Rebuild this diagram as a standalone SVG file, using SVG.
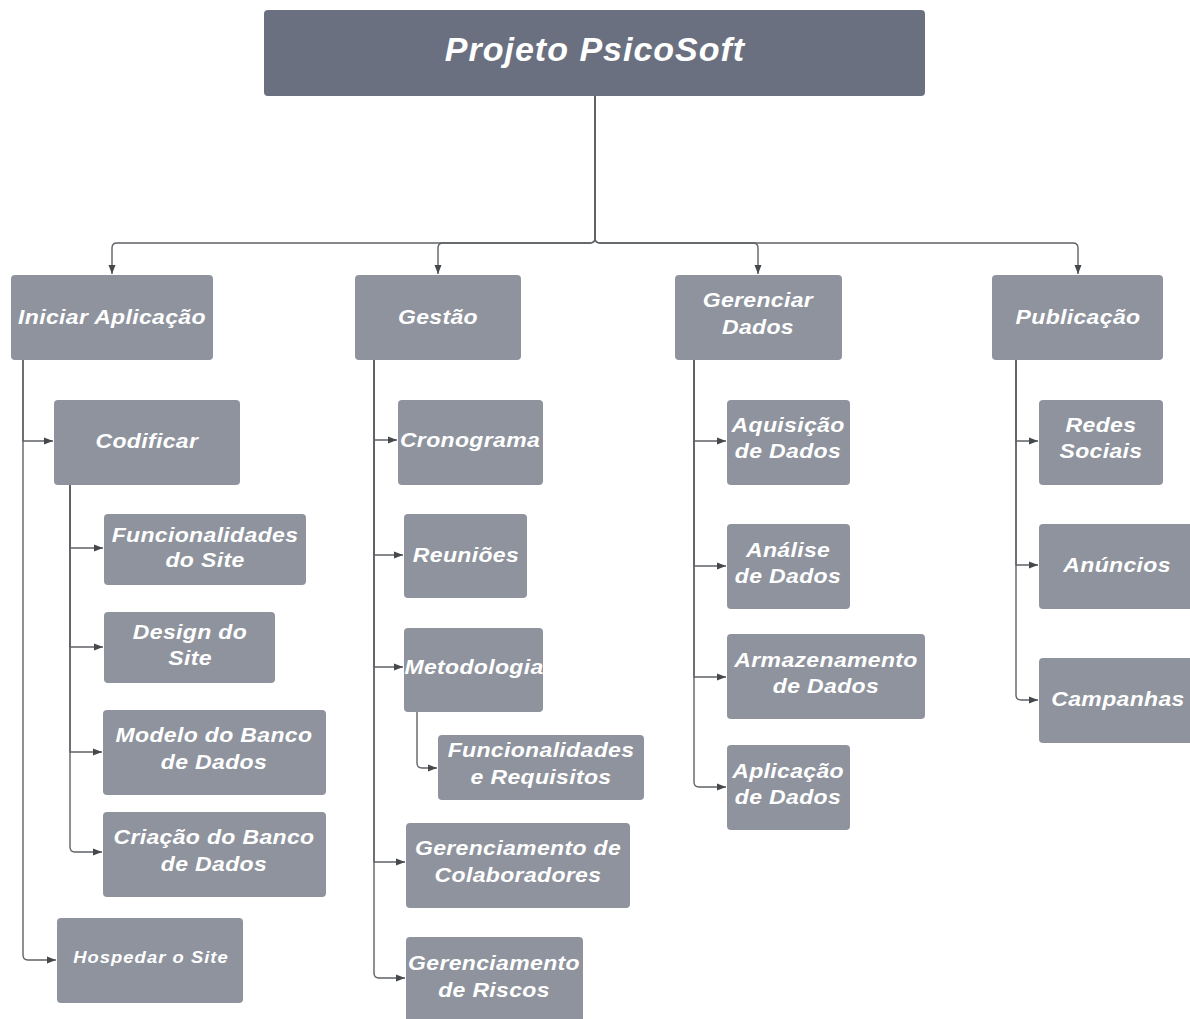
<svg xmlns="http://www.w3.org/2000/svg" width="1190" height="1019" viewBox="0 0 1190 1019">
  <style>
    .box { fill: #8e939d; }
    .root { fill: #6b7080; }
    .t { font-family: "Liberation Sans", Arial, sans-serif; font-style: italic; font-weight: bold; font-size: 20px; fill: #ffffff; letter-spacing: 0.3px; text-anchor: middle; transform-box: fill-box; transform-origin: center; transform: scaleX(1.15); }
    .ts { font-size: 16px; letter-spacing: 0.9px; }
    .tt { font-size: 34px; letter-spacing: 1px; transform: none; }
    .c { fill: none; stroke: #5f6266; stroke-width: 1.4; marker-end: url(#ah); }
  </style>
  <defs>
    <marker id="ah" markerUnits="userSpaceOnUse" markerWidth="9" markerHeight="8" refX="9" refY="4" orient="auto">
      <path d="M0,0.5 L9,4 L0,7.5 z" fill="#45484c"/>
    </marker>
  </defs>
  <rect width="1190" height="1019" fill="#ffffff"/>

  <g id="connectors">
    <!-- root to first level -->
    <path class="c" d="M595 96 V238 Q595 243 590 243 H117 Q112 243 112 248 V274"/>
    <path class="c" d="M595 96 V238 Q595 243 590 243 H443 Q438 243 438 248 V274"/>
    <path class="c" d="M595 96 V238 Q595 243 600 243 H753 Q758 243 758 248 V274"/>
    <path class="c" d="M595 96 V238 Q595 243 600 243 H1073 Q1078 243 1078 248 V274"/>
    <!-- Iniciar Aplicação -->
    <path class="c" d="M23 360 V441 H53"/>
    <path class="c" d="M23 360 V955 Q23 960 28 960 H56"/>
    <!-- Codificar -->
    <path class="c" d="M70 485 V548 H103"/>
    <path class="c" d="M70 485 V647 H103"/>
    <path class="c" d="M70 485 V752 H102"/>
    <path class="c" d="M70 485 V847 Q70 852 75 852 H102"/>
    <!-- Gestão -->
    <path class="c" d="M374 360 V440 H397"/>
    <path class="c" d="M374 360 V555 H403"/>
    <path class="c" d="M374 360 V667 H403"/>
    <path class="c" d="M374 360 V862 H405"/>
    <path class="c" d="M374 360 V973 Q374 978 379 978 H405"/>
    <!-- Metodologia -->
    <path class="c" d="M417 712 V763 Q417 768 422 768 H437"/>
    <!-- Gerenciar Dados -->
    <path class="c" d="M694 360 V441 H726"/>
    <path class="c" d="M694 360 V566 H726"/>
    <path class="c" d="M694 360 V677 H726"/>
    <path class="c" d="M694 360 V782 Q694 787 699 787 H726"/>
    <!-- Publicação -->
    <path class="c" d="M1016 360 V441 H1038"/>
    <path class="c" d="M1016 360 V565 H1038"/>
    <path class="c" d="M1016 360 V695 Q1016 700 1021 700 H1038"/>
  </g>

  <g id="root">
    <rect class="root" x="264" y="10" width="661" height="86" rx="4"/>
    <text class="t tt" x="595" y="61">Projeto PsicoSoft</text>
  </g>

  <!-- first level -->
  <g id="iniciar-aplicacao">
    <rect class="box" x="11" y="275" width="202" height="85" rx="4"/>
    <text class="t" x="112" y="324">Iniciar Aplicação</text>
  </g>
  <g id="gestao">
    <rect class="box" x="355" y="275" width="166" height="85" rx="4"/>
    <text class="t" x="438" y="324">Gestão</text>
  </g>
  <g id="gerenciar-dados">
    <rect class="box" x="675" y="275" width="167" height="85" rx="4"/>
    <text class="t" x="758" y="307">Gerenciar</text>
    <text class="t" x="758" y="334">Dados</text>
  </g>
  <g id="publicacao">
    <rect class="box" x="992" y="275" width="171" height="85" rx="4"/>
    <text class="t" x="1078" y="324">Publicação</text>
  </g>

  <!-- Iniciar Aplicação branch -->
  <g id="codificar">
    <rect class="box" x="54" y="400" width="186" height="85" rx="4"/>
    <text class="t" x="147" y="448">Codificar</text>
  </g>
  <g id="funcionalidades-site">
    <rect class="box" x="104" y="514" width="202" height="71" rx="4"/>
    <text class="t" x="205" y="542">Funcionalidades</text>
    <text class="t" x="205" y="567">do Site</text>
  </g>
  <g id="design-site">
    <rect class="box" x="104" y="612" width="171" height="71" rx="4"/>
    <text class="t" x="190" y="639">Design do</text>
    <text class="t" x="190" y="665">Site</text>
  </g>
  <g id="modelo-banco">
    <rect class="box" x="103" y="710" width="223" height="85" rx="4"/>
    <text class="t" x="214" y="742">Modelo do Banco</text>
    <text class="t" x="214" y="769">de Dados</text>
  </g>
  <g id="criacao-banco">
    <rect class="box" x="103" y="812" width="223" height="85" rx="4"/>
    <text class="t" x="214" y="844">Criação do Banco</text>
    <text class="t" x="214" y="871">de Dados</text>
  </g>
  <g id="hospedar-site">
    <rect class="box" x="57" y="918" width="186" height="85" rx="4"/>
    <text class="t ts" x="151" y="963">Hospedar o Site</text>
  </g>

  <!-- Gestão branch -->
  <g id="cronograma">
    <rect class="box" x="398" y="400" width="145" height="85" rx="4"/>
    <text class="t" x="470" y="447">Cronograma</text>
  </g>
  <g id="reunioes">
    <rect class="box" x="404" y="514" width="123" height="84" rx="4"/>
    <text class="t" x="466" y="562">Reuniões</text>
  </g>
  <g id="metodologia">
    <rect class="box" x="404" y="628" width="139" height="84" rx="4"/>
    <text class="t" x="474" y="674">Metodologia</text>
  </g>
  <g id="funcionalidades-requisitos">
    <rect class="box" x="438" y="735" width="206" height="65" rx="4"/>
    <text class="t" x="541" y="757">Funcionalidades</text>
    <text class="t" x="541" y="784">e Requisitos</text>
  </g>
  <g id="gerenciamento-colaboradores">
    <rect class="box" x="406" y="823" width="224" height="85" rx="4"/>
    <text class="t" x="518" y="855">Gerenciamento de</text>
    <text class="t" x="518" y="882">Colaboradores</text>
  </g>
  <g id="gerenciamento-riscos">
    <rect class="box" x="406" y="937" width="177" height="86" rx="4"/>
    <text class="t" x="494" y="970">Gerenciamento</text>
    <text class="t" x="494" y="997">de Riscos</text>
  </g>

  <!-- Gerenciar Dados branch -->
  <g id="aquisicao-dados">
    <rect class="box" x="727" y="400" width="123" height="85" rx="4"/>
    <text class="t" x="788" y="432">Aquisição</text>
    <text class="t" x="788" y="458">de Dados</text>
  </g>
  <g id="analise-dados">
    <rect class="box" x="727" y="524" width="123" height="85" rx="4"/>
    <text class="t" x="788" y="557">Análise</text>
    <text class="t" x="788" y="583">de Dados</text>
  </g>
  <g id="armazenamento-dados">
    <rect class="box" x="727" y="634" width="198" height="85" rx="4"/>
    <text class="t" x="826" y="667">Armazenamento</text>
    <text class="t" x="826" y="693">de Dados</text>
  </g>
  <g id="aplicacao-dados">
    <rect class="box" x="727" y="745" width="123" height="85" rx="4"/>
    <text class="t" x="788" y="778">Aplicação</text>
    <text class="t" x="788" y="804">de Dados</text>
  </g>

  <!-- Publicação branch -->
  <g id="redes-sociais">
    <rect class="box" x="1039" y="400" width="124" height="85" rx="4"/>
    <text class="t" x="1101" y="432">Redes</text>
    <text class="t" x="1101" y="458">Sociais</text>
  </g>
  <g id="anuncios">
    <rect class="box" x="1039" y="524" width="160" height="85" rx="4"/>
    <text class="t" x="1117" y="572">Anúncios</text>
  </g>
  <g id="campanhas">
    <rect class="box" x="1039" y="658" width="160" height="85" rx="4"/>
    <text class="t" x="1118" y="706">Campanhas</text>
  </g>
</svg>
